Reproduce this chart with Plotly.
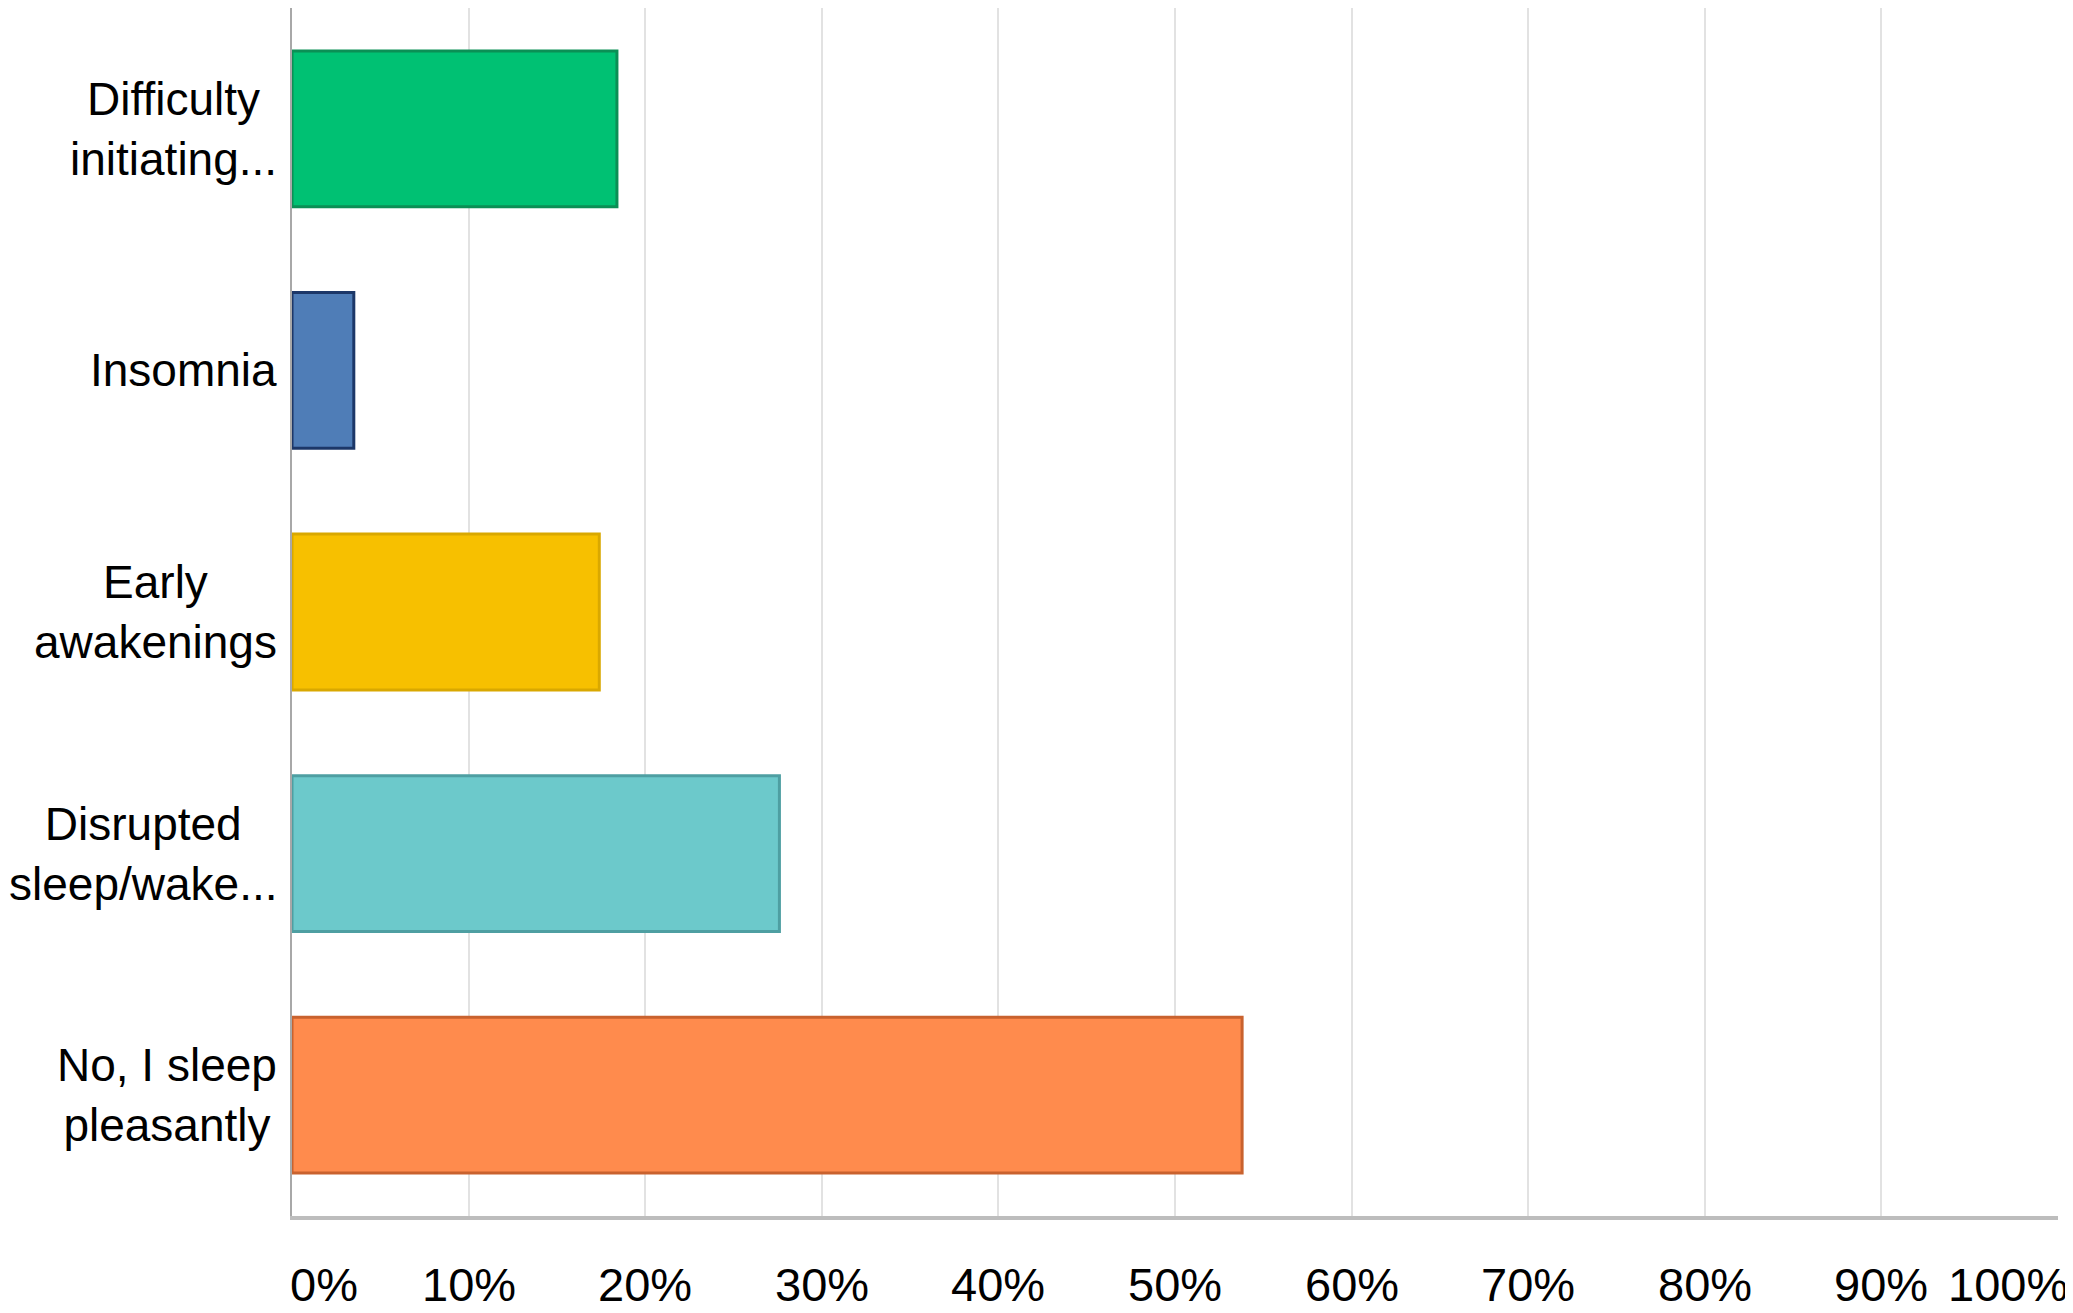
import plotly.graph_objects as go

categories = ["Difficulty<br>initiating...", "Insomnia", "Early<br>awakenings",
              "Disrupted<br>sleep/wake...", "No, I sleep<br>pleasantly"]
values = [18.4, 3.5, 17.4, 27.6, 53.8]
fill_colors = ["#00C173", "#4F7DB7", "#F7C000", "#6CC9CB", "#FF8B4D"]
line_colors = ["#0B8F55", "#1C3768", "#D9A800", "#4E9FA2", "#C9622E"]
tick_values = [0, 10, 20, 30, 40, 50, 60, 70, 80, 90, 100]
tick_labels = ["0%", "10%", "20%", "30%", "40%", "50%", "60%", "70%", "80%", "90%", "100%"]
tick_label_shift = {0: 32, 100: -50}

FONT = "Liberation Sans, Arial, Helvetica, sans-serif"

fig = go.Figure()
fig.add_trace(go.Bar(
    x=values, y=categories, orientation="h",
    marker=dict(color=fill_colors, line=dict(color=line_colors, width=3)),
    width=0.645, showlegend=False, hoverinfo="x+y",
))

annotations = []
for cat in categories:
    annotations.append(dict(
        x=0, xref="paper", y=cat, yref="y", xanchor="right", yanchor="middle",
        xshift=-13, text=cat, showarrow=False, align="center",
        font=dict(family=FONT, size=46, color="#000000"),
    ))
for v, t in zip(tick_values, tick_labels):
    annotations.append(dict(
        x=v, xref="x", y=0, yref="paper", xanchor="center", yanchor="middle",
        xshift=tick_label_shift.get(v, 0), yshift=-68, text=t, showarrow=False,
        font=dict(family=FONT, size=47, color="#000000"),
    ))

# page body has an 8px margin, so the figure is offset by 8px
fig.update_layout(
    width=2065, height=1305,
    margin=dict(l=284, r=15, t=0, b=97),
    paper_bgcolor="#FFFFFF", plot_bgcolor="#FFFFFF",
    annotations=annotations,
    xaxis=dict(
        range=[0, 100], tickvals=tick_values, ticktext=tick_labels,
        showticklabels=False, showgrid=True, gridcolor="#E2E2E2", gridwidth=2,
        zeroline=False, showline=True, linecolor="#BDBDBD", linewidth=4,
        ticks="", fixedrange=True,
    ),
    yaxis=dict(
        categoryorder="array", categoryarray=categories, autorange="reversed",
        showticklabels=False, showgrid=False, zeroline=False,
        showline=True, linecolor="#A8A8A8", linewidth=2, ticks="",
    ),
)

fig.write_html("out.html")
